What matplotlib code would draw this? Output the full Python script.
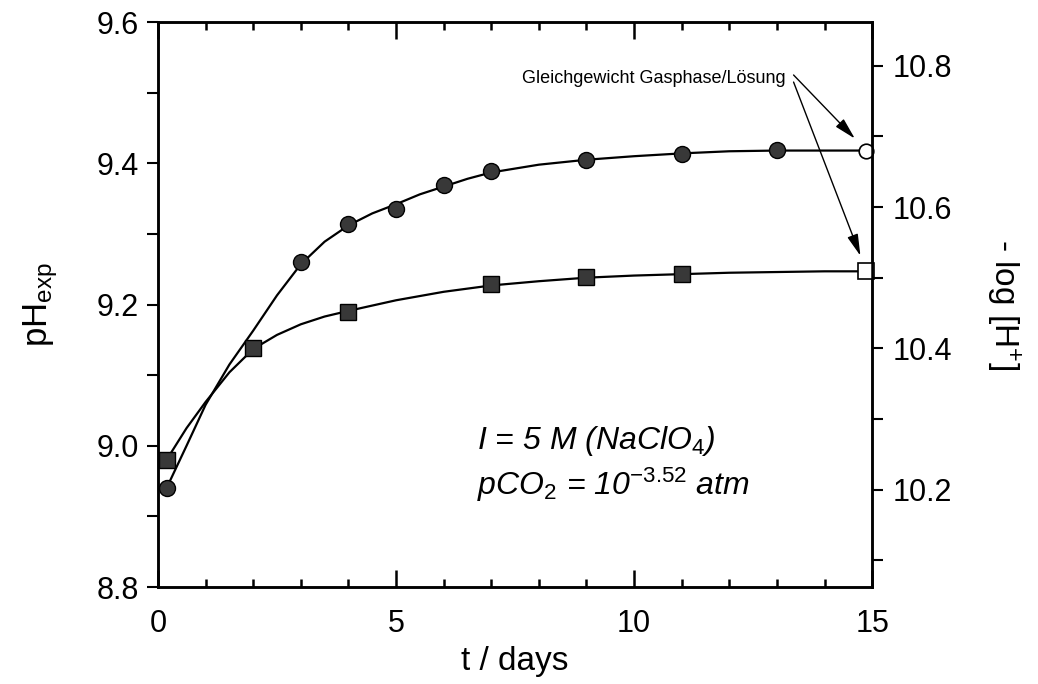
import numpy as np
import matplotlib
matplotlib.use("Agg")
import matplotlib.pyplot as plt
from matplotlib.ticker import MultipleLocator, FormatStrFormatter

plt.rcParams['font.family'] = ['Liberation Sans', 'DejaVu Sans']
plt.rcParams['mathtext.fontset'] = 'custom'
plt.rcParams['mathtext.rm'] = 'Liberation Sans'
plt.rcParams['mathtext.it'] = 'Liberation Sans:italic'
plt.rcParams['mathtext.default'] = 'it'

# measured pH vs time (filled symbols)
t_circ = [0.18, 3.0, 4.0, 5.0, 6.0, 7.0, 9.0, 11.0, 13.0]
ph_circ = [8.94, 9.26, 9.314, 9.335, 9.369, 9.389, 9.405, 9.413, 9.419]
t_sq = [0.18, 2.0, 4.0, 7.0, 9.0, 11.0]
ph_sq = [8.98, 9.138, 9.189, 9.229, 9.239, 9.243]

# equilibrium gas phase / solution (open symbols)
t_eq = 14.88
ph_eq_circ = 9.418
ph_eq_sq = 9.247

# fitted curves
fit_t_circ = [0.18, 0.6, 1.0, 1.5, 2.0, 2.5, 3.0, 3.5, 4.0, 4.5, 5.0, 5.5, 6.0,
              6.5, 7.0, 8.0, 9.0, 10.0, 11.0, 12.0, 13.0, 14.0, 14.88]
fit_ph_circ = [8.94, 9.0, 9.058, 9.115, 9.163, 9.213, 9.257, 9.289, 9.312, 9.329,
               9.342, 9.356, 9.367, 9.378, 9.387, 9.398, 9.405, 9.410, 9.414,
               9.417, 9.418, 9.418, 9.418]
fit_t_sq = [0.18, 0.6, 1.0, 1.5, 2.0, 2.5, 3.0, 3.5, 4.0, 5.0, 6.0, 7.0, 8.0,
            9.0, 10.0, 11.0, 12.0, 13.0, 14.0, 14.88]
fit_ph_sq = [8.98, 9.025, 9.062, 9.104, 9.137, 9.157, 9.172, 9.183, 9.191, 9.206,
             9.218, 9.227, 9.233, 9.238, 9.241, 9.243, 9.245, 9.246, 9.247, 9.247]

offset = 1.262  # -log[H+] = pH_exp + offset

fig = plt.figure(figsize=(10.38, 6.84), dpi=100)
ax = fig.add_axes([0.1522, 0.1418, 0.688, 0.826])

ax.plot(fit_t_circ, fit_ph_circ, color='black', lw=1.6, zorder=2)
ax.plot(fit_t_sq, fit_ph_sq, color='black', lw=1.6, zorder=2)
ax.plot(t_circ, ph_circ, 'o', ms=11.5, mfc='#383838', mec='black', mew=1, zorder=3)
ax.plot(t_sq, ph_sq, 's', ms=12, mfc='#383838', mec='black', mew=1, zorder=3)
ax.plot([t_eq], [ph_eq_circ], 'o', ms=10.5, mfc='white', mec='black', mew=1.2,
        zorder=4, clip_on=False)
ax.plot([t_eq], [ph_eq_sq], 's', ms=12, mfc='white', mec='black', mew=1.2,
        zorder=4, clip_on=False)

ax.set_xlim(0, 15)
ax.set_ylim(8.8, 9.6)
ax.xaxis.set_major_locator(MultipleLocator(5))
ax.xaxis.set_minor_locator(MultipleLocator(1))
ax.yaxis.set_major_locator(MultipleLocator(0.2))
ax.yaxis.set_minor_locator(MultipleLocator(0.1))
ax.yaxis.set_major_formatter(FormatStrFormatter('%.1f'))

ax.tick_params(axis='x', which='both', direction='in', top=True, width=1.8,
               labelsize=22, pad=16)
ax.tick_params(axis='x', which='major', length=12)
ax.tick_params(axis='x', which='minor', length=6)
ax.tick_params(axis='y', which='both', direction='out', length=8, width=1.5,
               labelsize=22, pad=6)
for s in ax.spines.values():
    s.set_linewidth(1.8)

ax.set_xlabel('t / days', fontsize=24, labelpad=5)
ax.set_ylabel(r'pH$_\mathrm{exp}$', fontsize=25, labelpad=26)

ax2 = ax.twinx()
ax2.set_ylim(8.8 + offset, 9.6 + offset)
ax2.yaxis.set_major_locator(MultipleLocator(0.2))
ax2.yaxis.set_minor_locator(MultipleLocator(0.1))
ax2.yaxis.set_major_formatter(FormatStrFormatter('%.1f'))
ax2.tick_params(axis='y', which='both', direction='out', length=8, width=1.5,
                labelsize=22, pad=7)
ax2.set_ylabel(r'- log [H$^\mathrm{+}$]', fontsize=24, rotation=270, labelpad=50)
for s in ax2.spines.values():
    s.set_linewidth(1.8)

# annotation for the equilibrium points
ax.text(13.18, 9.52, 'Gleichgewicht Gasphase/Lösung', fontsize=13,
        ha='right', va='center')
arrow = dict(arrowstyle='-|>,head_length=1.1,head_width=0.28', color='black',
             lw=1.0, mutation_scale=12, shrinkA=0, shrinkB=12)
ax.annotate('', xy=(t_eq, ph_eq_circ), xytext=(13.35, 9.525), arrowprops=arrow)
ax.annotate('', xy=(t_eq, ph_eq_sq), xytext=(13.35, 9.515), arrowprops=arrow)

ax.text(6.7, 8.995, 'I = 5 M (NaClO$_4$)', fontsize=23, style='italic')
ax.text(6.7, 8.93, 'pCO$_2$ = 10$^{-3.52}$ atm', fontsize=23, style='italic')

fig.savefig('out.png', dpi=100)
